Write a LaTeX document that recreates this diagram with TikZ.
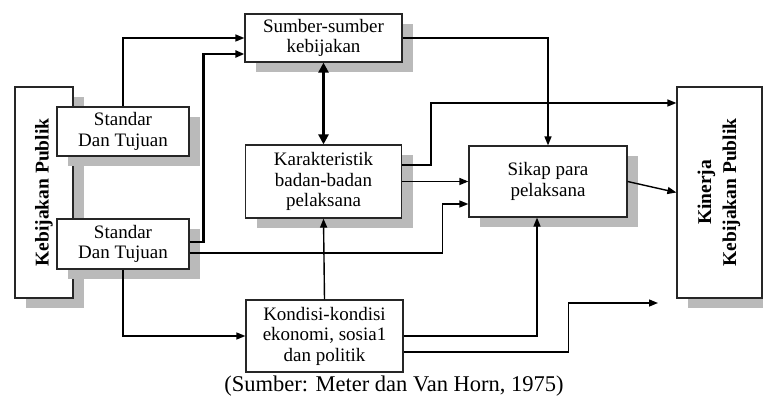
\documentclass[tikz,border=0pt]{standalone}
\usepackage{fontspec}
\setmainfont{Liberation Serif}
\usetikzlibrary{arrows.meta,shadows}

\begin{document}
\begin{tikzpicture}[x=1pt,y=-1pt,
  box/.style={draw=black!85, line width=1.2pt, fill=white, align=center, inner sep=0pt, font=\fontsize{19}{20.5}\selectfont},
  shadowbox/.style={box, drop shadow={shadow xshift=11pt, shadow yshift=-10pt, fill=black!27, opacity=1, draw=none}},
  link/.style={line width=1.4pt, -{Triangle[length=9pt,width=7pt]}},
  boldlink/.style={line width=2.6pt}]
\useasboundingbox (0,0) rectangle (763,398);

\node[shadowbox, minimum width=58pt, minimum height=211pt] (kebijakan) at (44,192.5) {\rotatebox{90}{\fontsize{19.5}{20.5}\bfseries Kebijakan Publik}};
\node[shadowbox, minimum width=132pt, minimum height=49pt] (standarA) at (123,131.5) {Standar\\Dan Tujuan};
\node[shadowbox, minimum width=132pt, minimum height=50pt] (standarB) at (123,244) {Standar\\Dan Tujuan};
\node[shadowbox, minimum width=157pt, minimum height=48pt] (sumber) at (323.5,38) {Sumber-sumber\\kebijakan};
\node[shadowbox, minimum width=156pt, minimum height=73pt] (karakter) at (323.5,181.5) {Karakteristik\\badan-badan\\pelaksana};
\node[shadowbox, minimum width=158pt, minimum height=71pt] (sikap) at (548,181.5) {Sikap para\\pelaksana};
\node[shadowbox, minimum width=85pt, minimum height=211pt] (kinerja) at (719.5,192.5) {\rotatebox{90}{\fontsize{19.5}{20.5}\bfseries\begin{tabular}{@{}c@{}}Kinerja\\[4.5pt]Kebijakan Publik\end{tabular}}};
\node[box, minimum width=157pt, minimum height=72pt] (kondisi) at (324.5,336) {Kondisi-kondisi\\ekonomi, sosia1\\dan politik};
\node[anchor=base, font=\fontsize{22.5}{27}\selectfont] (sumberRef) at (394,391.5) {(Sumber: Meter dan Van Horn, 1975)};

\draw[link] (standarA.north) |- (sumber.west);
\draw[link, boldlink] ([yshift=2pt]standarB.east) -- ++(14,0) |- ([yshift=-16pt]sumber.west);
\draw[link] ([yshift=-9pt]standarB.east) -- ++(253,0) |- ([yshift=-22.5pt]sikap.west);
\draw[link] (standarB.south) |- (kondisi.west);
\draw[link] (sumber.east) -| (sikap.north);
\draw[boldlink, {Triangle[length=10pt,width=10pt]}-{Triangle[length=10pt,width=10pt]}] (sumber.south) -- (karakter.north);
\draw[link] ([yshift=16.5pt]karakter.east) -- ++(29,0) |- ([yshift=89.5pt]kinerja.west);
\draw[link] (karakter.east) -- (sikap.west);
\draw[link] (sikap.east) -- (kinerja.west);
\draw[link] (kondisi.north) -- (karakter.south);
\draw[link] (kondisi.east) -| ([xshift=-11pt]sikap.south);
\coordinate (kinerjaIn) at (658,303);
\draw[link] ([yshift=-16pt]kondisi.east) -- ++(165,0) |- (kinerjaIn);

\end{tikzpicture}
\end{document}
